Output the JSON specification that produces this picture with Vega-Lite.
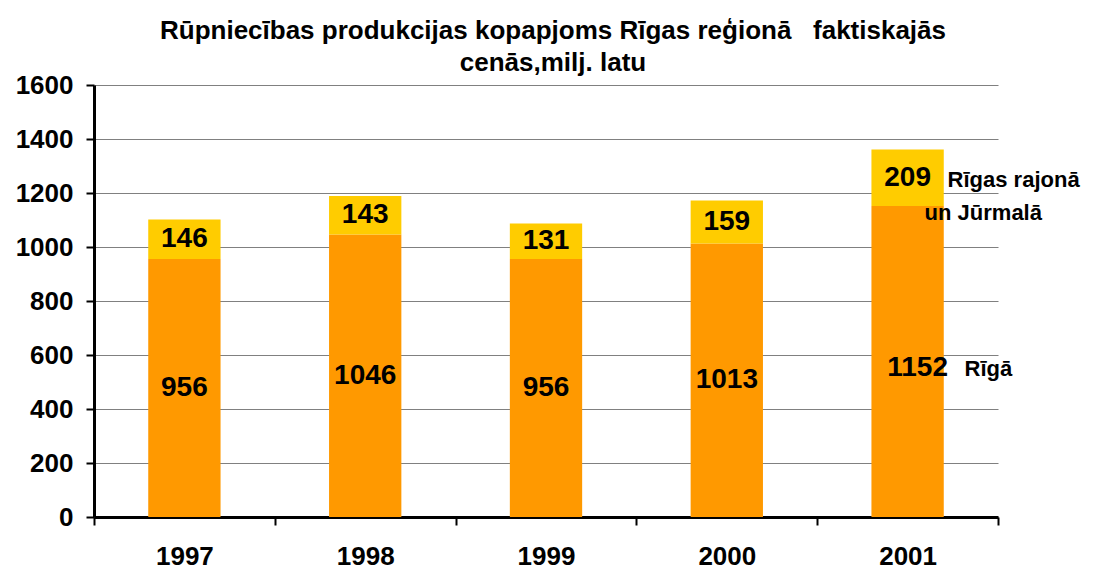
{
  "$schema": "https://vega.github.io/schema/vega-lite/v6.json",
  "width": 904,
  "height": 432,
  "autosize": {"type": "none"},
  "padding": {"left": 94, "top": 85, "right": 95, "bottom": 52},
  "background": "white",
  "config": {
    "font": "Liberation Sans",
    "view": {"stroke": null}
  },
  "title": {
    "text": ["Rūpniecības produkcijas kopapjoms Rīgas reģionā \u00a0 faktiskajās", "cenās,milj. latu"],
    "fontSize": 26,
    "fontWeight": "bold",
    "font": "Liberation Sans",
    "color": "black",
    "lineHeight": 32,
    "anchor": "middle",
    "frame": "group",
    "dx": 7,
    "offset": -4
  },
  "datasets": {
    "bars": [
      {"year": "1997", "part": "Rīgā", "ord": 1, "value": 956},
      {"year": "1997", "part": "Rīgas rajonā un Jūrmalā", "ord": 2, "value": 146},
      {"year": "1998", "part": "Rīgā", "ord": 1, "value": 1046},
      {"year": "1998", "part": "Rīgas rajonā un Jūrmalā", "ord": 2, "value": 143},
      {"year": "1999", "part": "Rīgā", "ord": 1, "value": 956},
      {"year": "1999", "part": "Rīgas rajonā un Jūrmalā", "ord": 2, "value": 131},
      {"year": "2000", "part": "Rīgā", "ord": 1, "value": 1013},
      {"year": "2000", "part": "Rīgas rajonā un Jūrmalā", "ord": 2, "value": 159},
      {"year": "2001", "part": "Rīgā", "ord": 1, "value": 1152},
      {"year": "2001", "part": "Rīgas rajonā un Jūrmalā", "ord": 2, "value": 209}
    ]
  },
  "layer": [
    {
      "data": {"name": "bars"},
      "mark": {"type": "bar", "width": {"band": 0.4}},
      "encoding": {
        "x": {
          "field": "year", "type": "nominal",
          "scale": {"paddingInner": 0, "paddingOuter": 0},
          "axis": {
            "title": null, "labelAngle": 0, "labelFontSize": 26, "labelFontWeight": "bold",
            "labelColor": "black", "labelPadding": 18, "labelBaseline": "top",
            "domainColor": "black", "domainWidth": 3, "tickColor": "black", "tickWidth": 2,
            "tickSize": 8, "tickBand": "extent", "grid": false
          }
        },
        "y": {
          "field": "value", "type": "quantitative", "stack": "zero",
          "scale": {"domain": [0, 1600]},
          "axis": {
            "title": null, "values": [0, 200, 400, 600, 800, 1000, 1200, 1400, 1600], "format": "d",
            "labelFontSize": 26, "labelFontWeight": "bold", "labelColor": "black", "labelPadding": 13,
            "domainColor": "black", "domainWidth": 3, "tickColor": "black", "tickWidth": 2, "tickSize": 8,
            "grid": true, "gridColor": "#808080", "gridWidth": 1.2
          }
        },
        "order": {"field": "ord", "type": "quantitative"},
        "color": {
          "field": "part", "type": "nominal",
          "scale": {"domain": ["Rīgā", "Rīgas rajonā un Jūrmalā"], "range": ["#FF9900", "#FFCC00"]},
          "legend": null
        }
      }
    },
    {
      "data": {"name": "bars"},
      "transform": [
        {"stack": "value", "groupby": ["year"], "sort": [{"field": "ord"}], "as": ["v0", "v1"]},
        {"calculate": "(datum.v0 + datum.v1) / 2", "as": "mid"},
        {"filter": "!(datum.year == '2001' && datum.ord == 1)"}
      ],
      "mark": {"type": "text", "fontSize": 28, "fontWeight": "bold", "color": "black", "baseline": "middle", "align": "center"},
      "encoding": {
        "x": {"field": "year", "type": "nominal"},
        "y": {"field": "mid", "type": "quantitative"},
        "text": {"field": "value", "type": "quantitative"}
      }
    },
    {
      "data": {"name": "bars"},
      "transform": [
        {"stack": "value", "groupby": ["year"], "sort": [{"field": "ord"}], "as": ["v0", "v1"]},
        {"calculate": "(datum.v0 + datum.v1) / 2", "as": "mid"},
        {"filter": "datum.year == '2001' && datum.ord == 1"}
      ],
      "mark": {"type": "text", "fontSize": 28, "fontWeight": "bold", "color": "black", "baseline": "middle", "align": "center", "dx": 10, "dy": 7},
      "encoding": {
        "x": {"field": "year", "type": "nominal"},
        "y": {"field": "mid", "type": "quantitative"},
        "text": {"field": "value", "type": "quantitative"}
      }
    },
    {
      "data": {"values": [{"year": "2001", "at": 1248, "label": "Rīgas rajonā"}]},
      "mark": {"type": "text", "fontSize": 22, "fontWeight": "bold", "color": "black", "baseline": "middle", "align": "left", "dx": 40},
      "encoding": {
        "x": {"field": "year", "type": "nominal"},
        "y": {"field": "at", "type": "quantitative"},
        "text": {"field": "label"}
      }
    },
    {
      "data": {"values": [{"year": "2001", "at": 1126, "label": "un Jūrmalā"}]},
      "mark": {"type": "text", "fontSize": 22, "fontWeight": "bold", "color": "black", "baseline": "middle", "align": "left", "dx": 17},
      "encoding": {
        "x": {"field": "year", "type": "nominal"},
        "y": {"field": "at", "type": "quantitative"},
        "text": {"field": "label"}
      }
    },
    {
      "data": {"values": [{"year": "2001", "at": 548, "label": "Rīgā"}]},
      "mark": {"type": "text", "fontSize": 22, "fontWeight": "bold", "color": "black", "baseline": "middle", "align": "left", "dx": 57},
      "encoding": {
        "x": {"field": "year", "type": "nominal"},
        "y": {"field": "at", "type": "quantitative"},
        "text": {"field": "label"}
      }
    }
  ]
}
